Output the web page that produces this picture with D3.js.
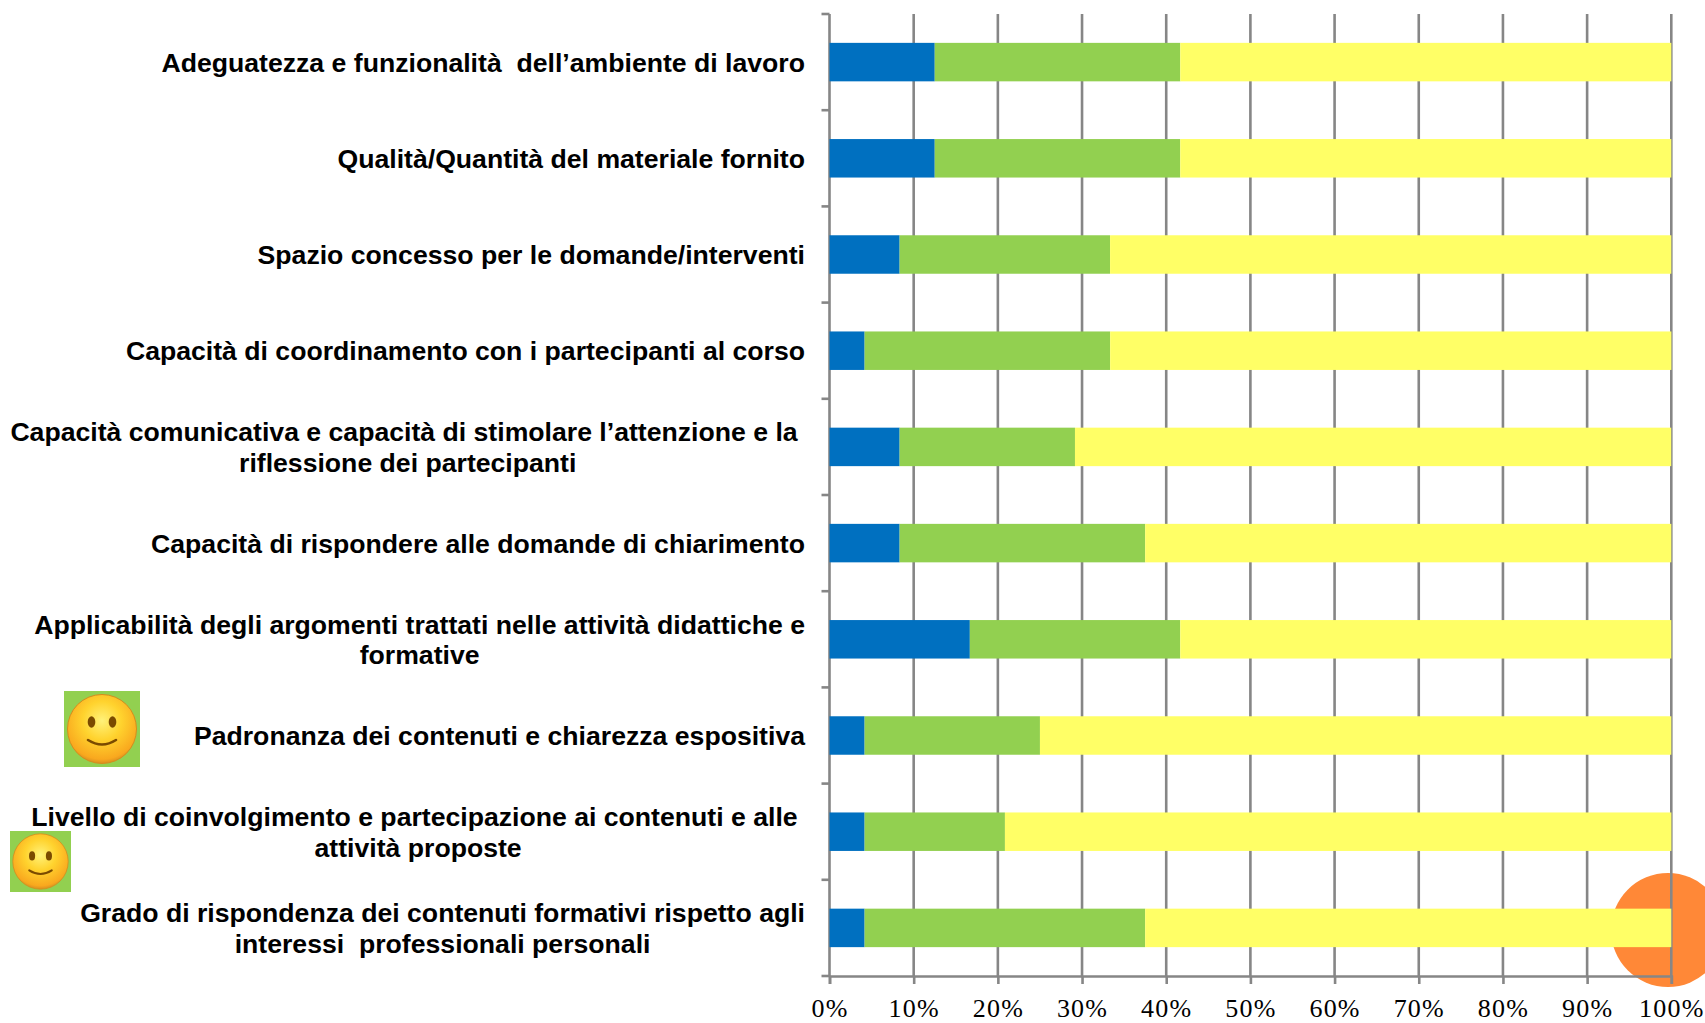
<!DOCTYPE html>
<html>
<head>
<meta charset="utf-8">
<script src="https://cdn.jsdelivr.net/npm/d3@7"></script>
<style>
  html, body { margin: 0; padding: 0; background: #fff; overflow: hidden; }
  text { white-space: pre; }
  .label { font-family: "Liberation Sans", Arial, sans-serif; font-weight: bold; font-size: 26.63px; fill: #000; }
  .tick text { font-family: "Liberation Serif", serif; font-size: 26px; letter-spacing: 1.2px; fill: #000; }
</style>
</head>
<body>
<svg id="chart" width="1705" height="1023"></svg>
<script>
const categories = [
  'Adeguatezza e funzionalità  dell’ambiente di lavoro',
  'Qualità/Quantità del materiale fornito',
  'Spazio concesso per le domande/interventi',
  'Capacità di coordinamento con i partecipanti al corso',
  'Capacità comunicativa e capacità di stimolare l’attenzione e la \nriflessione dei partecipanti',
  'Capacità di rispondere alle domande di chiarimento',
  'Applicabilità degli argomenti trattati nelle attività didattiche e\nformative',
  'Padronanza dei contenuti e chiarezza espositiva',
  'Livello di coinvolgimento e partecipazione ai contenuti e alle \nattività proposte',
  'Grado di rispondenza dei contenuti formativi rispetto agli\ninteressi  professionali personali'
];
const blueValues = [12.5, 12.5, 8.33, 4.17, 8.33, 8.33, 16.67, 4.17, 4.17, 4.17];
const greenValues = [29.17, 29.17, 25, 29.17, 20.83, 29.17, 25, 20.83, 16.67, 33.33];
const yellowValues = [58.33, 58.33, 66.67, 66.67, 70.83, 62.5, 58.33, 75, 79.17, 62.5];
const tickValues = [0, 10, 20, 30, 40, 50, 60, 70, 80, 90, 100];
const seriesKeys = ['blue', 'green', 'yellow'];
const seriesColors = { blue: '#0070c0', green: '#92d050', yellow: '#ffff66' };

const svg = d3.select('#chart');
const axisColor = '#868686';
const margin = { left: 829.5, right: 1671.3, top: 14, bottom: 976 };

const rows = categories.map((c, i) => ({
  category: c, blue: blueValues[i], green: greenValues[i], yellow: yellowValues[i]
}));

const x = d3.scaleLinear().domain([0, 100]).range([margin.left, margin.right]);
const y = d3.scaleBand().domain(categories).range([margin.top, margin.bottom]).paddingInner(0.6).paddingOuter(0.3);

// gradient for the smileys
const grad = svg.append('defs').append('radialGradient')
  .attr('id', 'face').attr('cx', '50%').attr('cy', '38%').attr('r', '62%');
grad.append('stop').attr('offset', '0%').attr('stop-color', '#fff27a');
grad.append('stop').attr('offset', '45%').attr('stop-color', '#ffd32e');
grad.append('stop').attr('offset', '90%').attr('stop-color', '#f9a81e');
grad.append('stop').attr('offset', '100%').attr('stop-color', '#d98f1e');

// orange circle sits behind everything
svg.append('circle')
  .attr('cx', 1668).attr('cy', 930).attr('r', 57)
  .attr('fill', '#ff8837');

// vertical grid + x axis
const xAxis = svg.append('g')
  .attr('transform', `translate(0,${margin.bottom})`)
  .call(d3.axisBottom(x).tickValues(tickValues).tickFormat(d => d + '%').tickSize(8).tickPadding(15));
xAxis.select('.domain').attr('stroke', axisColor).attr('stroke-width', 2.6);
xAxis.selectAll('.tick line').attr('stroke', axisColor).attr('stroke-width', 2.6);

svg.append('g')
  .selectAll('line')
  .data(tickValues)
  .enter().append('line')
  .attr('x1', d => x(d)).attr('x2', d => x(d))
  .attr('y1', margin.top).attr('y2', margin.bottom)
  .attr('stroke', axisColor).attr('stroke-width', 2.6);

// left axis ticks fall between the categories
const yBorders = categories.map(c => y(c) - y.step() * 0.3);
yBorders.push(margin.bottom);
svg.append('g')
  .selectAll('line')
  .data(yBorders)
  .enter().append('line')
  .attr('x1', margin.left - 8).attr('x2', margin.left)
  .attr('y1', d => d).attr('y2', d => d)
  .attr('stroke', axisColor).attr('stroke-width', 2.6);

// bars
const stacked = d3.stack().keys(seriesKeys)(rows);
svg.append('g')
  .selectAll('g')
  .data(stacked)
  .enter().append('g')
  .attr('fill', d => seriesColors[d.key])
  .selectAll('rect')
  .data(d => d)
  .enter().append('rect')
  .attr('x', d => x(d[0]))
  .attr('y', d => y(d.data.category))
  .attr('width', d => x(d[1]) - x(d[0]))
  .attr('height', y.bandwidth());

// category labels, centred lines in a block that ends at labelRight
const labelRight = 805, lineHeight = 30.7;
const labels = svg.append('g').attr('class', 'label');
categories.forEach(c => {
  const lines = c.split('\n');
  const midY = y(c) + y.bandwidth() / 2 + 0.6;
  const texts = lines.map((line, i) => labels.append('text')
    .attr('y', midY + (i - (lines.length - 1) / 2) * lineHeight)
    .attr('dy', '0.34em')
    .text(line));
  const widest = d3.max(texts, t => t.node().getComputedTextLength());
  texts.forEach(t => t.attr('x', labelRight - widest / 2).attr('text-anchor', 'middle'));
});

// smileys
function smiley(px, py, size) {
  const g = svg.append('g').attr('transform', `translate(${px},${py}) scale(${size / 76})`);
  g.append('rect').attr('width', 76).attr('height', 76).attr('fill', '#92d050');
  g.append('circle').attr('cx', 38).attr('cy', 38).attr('r', 34.5)
    .attr('fill', 'url(#face)').attr('stroke', '#d68c1c').attr('stroke-width', 1);
  g.selectAll('ellipse').data([27.5, 48.5]).enter().append('ellipse')
    .attr('cx', d => d).attr('cy', 31).attr('rx', 3.8).attr('ry', 5.8).attr('fill', '#7a4a00');
  g.append('path').attr('d', 'M24,49 Q38,58 52,49')
    .attr('fill', 'none').attr('stroke', '#7a4a00').attr('stroke-width', 2.6).attr('stroke-linecap', 'round');
}
smiley(64, 691, 76);
smiley(10, 831, 61);
</script>
</body>
</html>
